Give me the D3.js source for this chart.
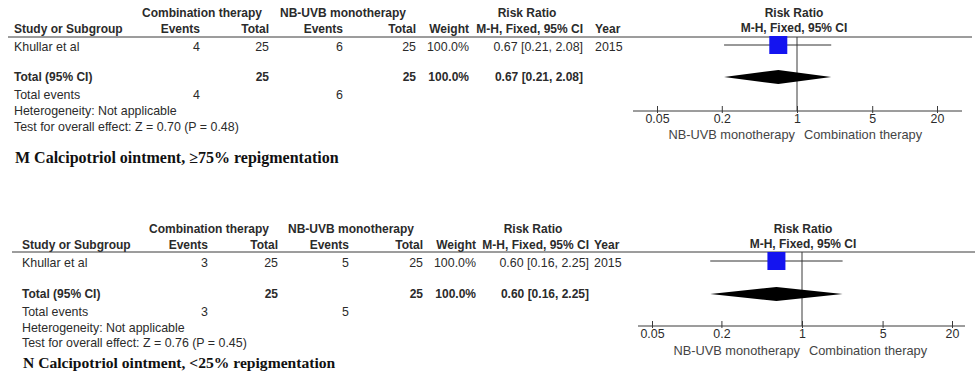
<!DOCTYPE html>
<html>
<head>
<meta charset="utf-8">
<script src="https://cdn.jsdelivr.net/npm/d3@7"></script>
<style>
  html, body { margin: 0; padding: 0; background: #fff; }
  svg { display: block; }
  text { font-family: "Liberation Sans", Arial, sans-serif; font-size: 12.4px; fill: #2b2b2b; }
  .b { font-weight: bold; font-size: 12px; }
  .fav { font-size: 12.8px; fill: #444; }
  .cap { font-family: "Liberation Serif", "Times New Roman", serif; font-weight: bold; fill: #111; }
</style>
</head>
<body>
<div id="chart"></div>
<script>
// one entry per panel (M, N)
const studies = ['Khullar et al', 'Khullar et al'];
const comboEvents = [4, 3];
const comboTotal = [25, 25];
const monoEvents = [6, 5];
const monoTotal = [25, 25];
const weights = ['100.0%', '100.0%'];
const riskRatio = [0.67, 0.60];
const ciLow = [0.21, 0.16];
const ciHigh = [2.08, 2.25];
const years = [2015, 2015];
const zValues = ['0.70', '0.76'];
const pValues = ['0.48', '0.45'];
const captions = ['M Calcipotriol ointment, \u226575% repigmentation', 'N Calcipotriol ointment, <25% repigmentation'];

const tickValues = [0.05, 0.2, 1, 5, 20];
const tickLabels = ['0.05', '0.2', '1', '5', '20'];
const favoursLeft = 'NB-UVB monotherapy';
const favoursRight = 'Combination therapy';

const WIDTH = 979;
const HEIGHT = 381;

// layout of each panel (pixel positions only)
const LAYOUT = [
    {
        lineX: [8, 972], h1: 13, h2: 29, line: 37, row: 47, total: 77, events: 95, het: 111, test: 127, cap: 163, capSize: 16,
        study: 14, cEv: 200, cTot: 269, mEv: 343, mTot: 416, wt: 469, rr: 583, year: 595,
        comboHead: 142, monoHead: 280, rrHead: 527,
        plot: [657, 937], axisX: [633, 962], axisY: 111, favY: 135, plotHead: 794
    },
    {
        lineX: [12, 975], h1: 229, h2: 245, line: 252, row: 263, total: 294, events: 312, het: 328, test: 343, cap: 368, capSize: 15.6,
        study: 22, cEv: 208, cTot: 278, mEv: 349, mTot: 423, wt: 476, rr: 589, year: 594,
        comboHead: 149, monoHead: 288, rrHead: 533,
        plot: [652, 952], axisX: [638, 965], axisY: 326, favY: 351, plotHead: 803
    }
];

const svg = d3.select('#chart')
    .append('svg')
    .attr('width', WIDTH)
    .attr('height', HEIGHT);

function label(g, x, y, str, anchor, cls) {
    return g.append('text')
        .attr('x', x)
        .attr('y', y)
        .attr('dy', '0.35em')
        .attr('text-anchor', anchor || 'start')
        .attr('class', cls || null)
        .text(str);
}

LAYOUT.forEach((L, i) => {
    const g = svg.append('g');

    // table headers
    label(g, L.comboHead, L.h1, 'Combination therapy', 'start', 'b');
    label(g, L.monoHead, L.h1, 'NB-UVB monotherapy', 'start', 'b');
    label(g, L.rrHead, L.h1, 'Risk Ratio', 'middle', 'b');
    label(g, L.study, L.h2, 'Study or Subgroup', 'start', 'b');
    label(g, L.cEv, L.h2, 'Events', 'end', 'b');
    label(g, L.cTot, L.h2, 'Total', 'end', 'b');
    label(g, L.mEv, L.h2, 'Events', 'end', 'b');
    label(g, L.mTot, L.h2, 'Total', 'end', 'b');
    label(g, L.wt, L.h2, 'Weight', 'end', 'b');
    label(g, L.rr, L.h2, 'M-H, Fixed, 95% CI', 'end', 'b');
    label(g, L.year, L.h2, 'Year', 'start', 'b');

    g.append('line')
        .attr('x1', L.lineX[0]).attr('x2', L.lineX[1])
        .attr('y1', L.line).attr('y2', L.line)
        .attr('stroke', '#3a3a3a').attr('stroke-width', 1);

    const ci = `${riskRatio[i].toFixed(2)} [${ciLow[i].toFixed(2)}, ${ciHigh[i].toFixed(2)}]`;

    // study row
    label(g, L.study, L.row, studies[i]);
    label(g, L.cEv, L.row, comboEvents[i], 'end');
    label(g, L.cTot, L.row, comboTotal[i], 'end');
    label(g, L.mEv, L.row, monoEvents[i], 'end');
    label(g, L.mTot, L.row, monoTotal[i], 'end');
    label(g, L.wt, L.row, weights[i], 'end');
    label(g, L.rr, L.row, ci, 'end');
    label(g, L.year, L.row, years[i]);

    // total row
    label(g, L.study, L.total, 'Total (95% CI)', 'start', 'b');
    label(g, L.cTot, L.total, comboTotal[i], 'end', 'b');
    label(g, L.mTot, L.total, monoTotal[i], 'end', 'b');
    label(g, L.wt, L.total, weights[i], 'end', 'b');
    label(g, L.rr, L.total, ci, 'end', 'b');

    label(g, L.study, L.events, 'Total events');
    label(g, L.cEv, L.events, comboEvents[i], 'end');
    label(g, L.mEv, L.events, monoEvents[i], 'end');
    label(g, L.study, L.het, 'Heterogeneity: Not applicable');
    label(g, L.study, L.test, `Test for overall effect: Z = ${zValues[i]} (P = ${pValues[i]})`);

    g.append('text')
        .attr('class', 'cap')
        .attr('x', L.study + 1)
        .attr('y', L.cap)
        .style('font-size', L.capSize + 'px')
        .text(captions[i]);

    // forest plot
    const x = d3.scaleLog()
        .domain([tickValues[0], tickValues[tickValues.length - 1]])
        .range(L.plot);

    label(g, L.plotHead, L.h1, 'Risk Ratio', 'middle', 'b');
    label(g, L.plotHead, L.h2 - 1, 'M-H, Fixed, 95% CI', 'middle', 'b');

    // line of no effect
    g.append('line')
        .attr('x1', x(1)).attr('x2', x(1))
        .attr('y1', L.line).attr('y2', L.axisY)
        .attr('stroke', '#3a3a3a').attr('stroke-width', 1);

    // axis
    const axis = g.append('g')
        .attr('transform', `translate(0,${L.axisY})`)
        .call(d3.axisBottom(x)
            .tickValues(tickValues)
            .tickFormat((d, k) => tickLabels[k])
            .tickSizeInner(-5)
            .tickSizeOuter(0)
            .tickPadding(3));
    axis.select('.domain').remove();
    axis.selectAll('.tick line').attr('y1', 2).attr('stroke', '#3a3a3a');
    axis.selectAll('.tick text')
        .style('font-family', '"Liberation Sans", Arial, sans-serif')
        .style('font-size', '12.4px')
        .attr('fill', '#333');
    axis.append('line')
        .attr('x1', L.axisX[0]).attr('x2', L.axisX[1])
        .attr('stroke', '#3a3a3a').attr('stroke-width', 1);

    label(g, x(1) - 2, L.favY, favoursLeft, 'end', 'fav');
    label(g, x(1) + 7, L.favY, favoursRight, 'start', 'fav');

    // confidence interval + weight square
    const sy = L.row - 2;
    g.append('line')
        .attr('x1', x(ciLow[i])).attr('x2', x(ciHigh[i]))
        .attr('y1', sy).attr('y2', sy)
        .attr('stroke', '#333').attr('stroke-width', 1);
    const size = 18;
    g.append('rect')
        .attr('x', x(riskRatio[i]) - size / 2)
        .attr('y', sy - size / 2)
        .attr('width', size)
        .attr('height', size)
        .attr('fill', '#1414f0');

    // pooled diamond
    const dy = L.total;
    g.append('path')
        .attr('d', d3.line()([
            [x(ciLow[i]), dy],
            [x(riskRatio[i]), dy - 7],
            [x(ciHigh[i]), dy],
            [x(riskRatio[i]), dy + 7]
        ]) + 'Z')
        .attr('fill', '#000');
});
</script>
</body>
</html>
